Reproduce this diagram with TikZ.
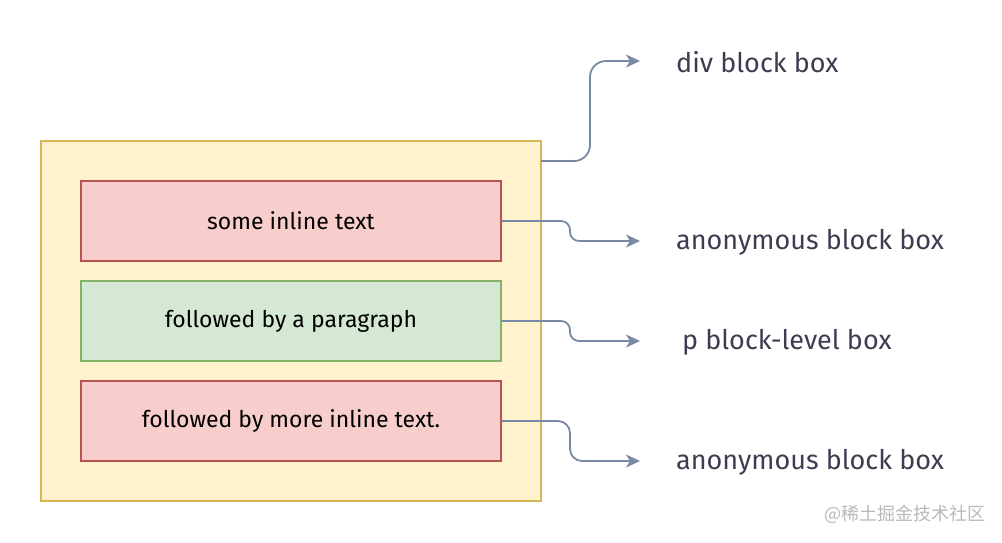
\documentclass[tikz,border=0pt]{standalone}
\usepackage{fontspec}
\setmainfont{Fira Sans}
\newfontfamily\cjk{Noto Sans CJK SC}
\usetikzlibrary{arrows.meta}
\definecolor{outerfill}{HTML}{FFF2CC}
\definecolor{outerline}{HTML}{D6B656}
\definecolor{redfill}{HTML}{F8CECC}
\definecolor{redline}{HTML}{B85450}
\definecolor{greenfill}{HTML}{D5E8D4}
\definecolor{greenline}{HTML}{82B366}
\definecolor{connc}{HTML}{788AA3}
\definecolor{labc}{HTML}{3D3D52}
\definecolor{wmc}{HTML}{B8B8B8}
\tikzset{
  outerbox/.style={draw=outerline, fill=outerfill, line width=1.5pt, minimum width=500pt, minimum height=360pt, inner sep=0pt},
  redbox/.style={draw=redline, fill=redfill, line width=1.3pt, minimum width=420pt, minimum height=80pt, inner sep=0pt, font=\fontsize{23}{27}\selectfont},
  greenbox/.style={draw=greenline, fill=greenfill, line width=1.3pt, minimum width=420pt, minimum height=80pt, inner sep=0pt, font=\fontsize{23}{27}\selectfont},
  lab/.style={anchor=west, inner sep=0pt, text=labc, font=\fontsize{27}{32}\selectfont},
  conn/.style={draw=connc, line width=1.8pt, -{Stealth[length=14pt, width=13pt, inset=4pt]}},
}
\begin{document}
\begin{tikzpicture}[x=1pt, y=-1pt]
\useasboundingbox (0,0) rectangle (1002,542);
\node[outerbox] (outer) at (291,321) {};
\node[redbox] (b1) at (291,221) {\raisebox{-2pt}{some inline text}};
\node[greenbox] (b2) at (291,321) {\raisebox{-2pt}{followed by a paragraph}};
\node[redbox] (b3) at (291,421) {\raisebox{-2pt}{followed by more inline text.}};
\node[lab] (l1) at (676,62) {div block box};
\node[lab] (l2) at (676,242) {anonymous block box};
\node[lab] (l3) at (682,342) {p block-level box};
\node[lab] (l4) at (676,462) {anonymous block box};
\node[anchor=east, inner sep=0pt, text=wmc, font=\cjk\fontsize{18}{21}\selectfont] (wm) at (986,514) {@稀土掘金技术社区};
\coordinate (s0) at (541,161);
\coordinate (t1) at (640,61);
\coordinate (t2) at (640,241);
\coordinate (t3) at (640,341);
\coordinate (t4) at (640,461);
\draw[conn, rounded corners=16pt] (s0) -- (590,161) |- (t1);
\draw[conn, rounded corners=9pt] (b1.east) -- (570,221) |- (t2);
\draw[conn, rounded corners=9pt] (b2.east) -- (570,321) |- (t3);
\draw[conn, rounded corners=12pt] (b3.east) -- (570,421) |- (t4);
\end{tikzpicture}
\end{document}
